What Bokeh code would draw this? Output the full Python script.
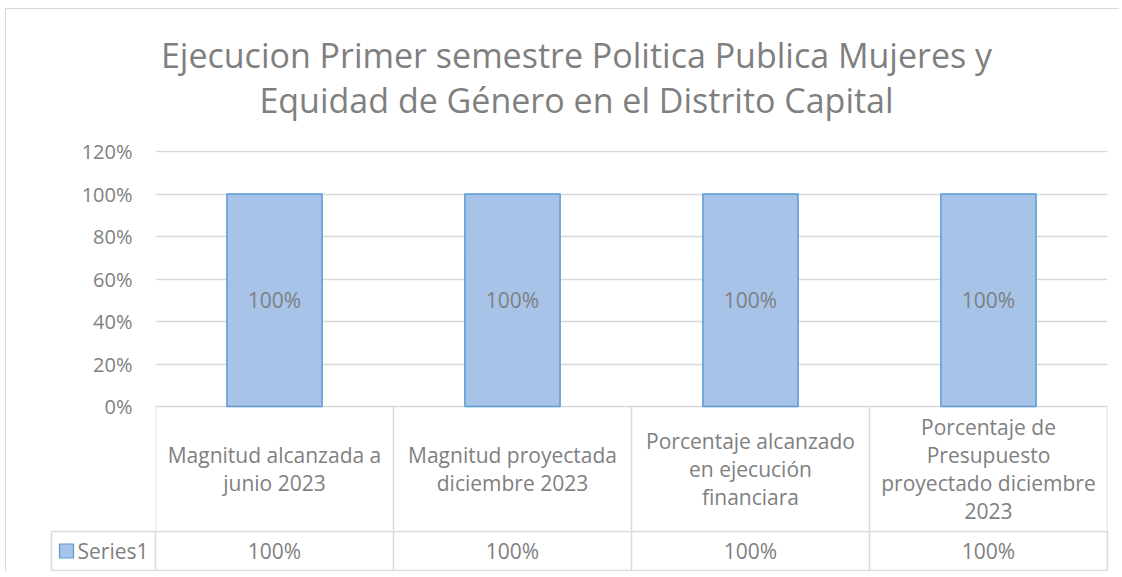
from bokeh.plotting import figure
from bokeh.models import Range1d, FixedTicker, NumeralTickFormatter
from bokeh.embed import file_html
from bokeh.resources import INLINE
from bokeh.core.properties import value

# ---------------- data ----------------
title_lines = ["Ejecucion Primer semestre Politica Publica Mujeres y",
               "Equidad de Género en el Distrito Capital"]
categories = ["Magnitud alcanzada a junio 2023",
              "Magnitud proyectada diciembre 2023",
              "Porcentaje alcanzado en ejecución financiara",
              "Porcentaje de Presupuesto proyectado diciembre 2023"]
category_labels = ["Magnitud alcanzada a\njunio 2023",
                   "Magnitud proyectada\ndiciembre 2023",
                   "Porcentaje alcanzado\nen ejecución\nfinanciara",
                   "Porcentaje de\nPresupuesto\nproyectado diciembre\n2023"]
series_name = "Series1"
values = [1.0, 1.0, 1.0, 1.0]
y_ticks = [0, 0.2, 0.4, 0.6, 0.8, 1.0, 1.2]

# ---------------- style / layout (pixels) ----------------
FONT_NAME = "Open Sans"
FONT = value(FONT_NAME)
TEXT = "#7f7f7f"
GRID = "#d9d9d9"
BAR_FILL = "#a7c4e8"
BAR_LINE = "#5b9bd5"
FS = "21px"
W_LEFT, FRAME_W, W_RIGHT = 149, 952, 13
W = W_LEFT + FRAME_W + W_RIGHT
Y_MAX = 1.2
PLOT_H = 255                 # pixels for 0 .. 120 %
PX_PER = PLOT_H / Y_MAX
TITLE_H = 123
TOP_PAD = 19
HEADER_H = 124               # category-name row below the 0 % line
ROW_H = 41                   # series row
n = len(categories)
CAT_PX = FRAME_W / n
centers = [i + 0.5 for i in range(n)]
bounds = list(range(n + 1))
pct = [f"{v:.0%}" for v in values]
BORDER = "1px solid #d9d9d9"


def clean(p):
    p.outline_line_color = None
    p.background_fill_color = "white"
    p.border_fill_color = "white"
    p.grid.visible = False


# ---------------- title ----------------
p0 = figure(width=W, height=TITLE_H, x_range=Range1d(0, W), y_range=Range1d(TITLE_H, 0),
            min_border=0, x_axis_location=None, y_axis_location=None,
            toolbar_location=None, output_backend="svg")
clean(p0)
p0.text(x=[570, 570], y=[45, 90], text=title_lines, text_align="center",
        text_baseline="middle", text_font=FONT, text_font_size="34px",
        text_color=TEXT)
p0.styles = {"margin-left": "5px", "margin-top": "8px",
             "border-left": BORDER, "border-top": BORDER}

# ---------------- chart + category row ----------------
y_start = -HEADER_H / PX_PER
y_end = Y_MAX + 1 / PX_PER
frame_h = PLOT_H + 1 + HEADER_H
p1 = figure(width=W, height=TOP_PAD + frame_h,
            x_range=Range1d(0, n), y_range=Range1d(y_start, y_end),
            min_border_left=W_LEFT, min_border_right=W_RIGHT,
            min_border_top=TOP_PAD, min_border_bottom=0,
            x_axis_location=None,
            toolbar_location=None, output_backend="svg")
clean(p1)
p1.ygrid.visible = True
p1.ygrid.ticker = FixedTicker(ticks=y_ticks)
p1.ygrid.grid_line_color = GRID
p1.ygrid.grid_line_width = 1.5

p1.yaxis.ticker = FixedTicker(ticks=y_ticks)
p1.yaxis.formatter = NumeralTickFormatter(format="0%")
p1.yaxis.axis_line_color = None
p1.yaxis.major_tick_line_color = None
p1.yaxis.minor_tick_line_color = None
p1.yaxis.major_label_standoff = 17
p1.yaxis.major_label_text_font = FONT_NAME
p1.yaxis.major_label_text_font_size = "20px"
p1.yaxis.major_label_text_color = TEXT

# vertical cell borders of the category row
p1.segment(x0=bounds, x1=bounds, y0=[y_start] * len(bounds), y1=[0] * len(bounds),
           line_color=GRID, line_width=1.5)

p1.vbar(x=centers, top=values, bottom=0, width=0.4, fill_color=BAR_FILL,
        line_color=BAR_LINE, line_width=1.5)
p1.text(x=centers, y=[v / 2 for v in values], text=pct, text_align="center",
        text_baseline="middle", text_font=FONT, text_font_size=FS,
        text_color=TEXT)
p1.text(x=centers, y=[y_start / 2] * n, text=category_labels, text_align="center",
        text_baseline="middle", text_font=FONT, text_font_size=FS,
        text_color=TEXT, text_line_height=1.0)
p1.styles = {"margin-left": "5px", "border-left": BORDER}

# ---------------- series row (data table) ----------------
xl = -(155 - 51) / CAT_PX  # left edge of legend cell
p2 = figure(width=W, height=ROW_H,
            x_range=Range1d(-W_LEFT / CAT_PX, n + W_RIGHT / CAT_PX),
            y_range=Range1d(0, ROW_H), min_border=0,
            x_axis_location=None, y_axis_location=None,
            toolbar_location=None, output_backend="svg")
clean(p2)
row_bottom, row_top = 1, ROW_H - 1
p2.segment(x0=bounds, x1=bounds, y0=[row_bottom] * len(bounds), y1=[ROW_H] * len(bounds),
           line_color=GRID, line_width=1.5)
p2.segment(x0=[xl, xl, xl], x1=[xl, n, n], y0=[row_bottom, row_bottom, row_top],
           y1=[row_top, row_bottom, row_top], line_color=GRID, line_width=1.5)
row_mid = (row_bottom + row_top) / 2
p2.text(x=centers, y=[row_mid] * n, text=pct, text_align="center",
        text_baseline="middle", text_font=FONT, text_font_size=FS,
        text_color=TEXT)
p2.scatter(x=[xl + 15 / CAT_PX], y=[row_mid], marker="square", size=14,
           fill_color=BAR_FILL, line_color=BAR_LINE, line_width=1.2)
p2.text(x=[xl + 26 / CAT_PX], y=[row_mid], text=[series_name], text_align="left",
        text_baseline="middle", text_font=FONT, text_font_size=FS,
        text_color=TEXT)
p2.styles = {"margin-left": "5px", "border-left": BORDER}

open("out.html", "w").write(file_html([p0, p1, p2], INLINE))
